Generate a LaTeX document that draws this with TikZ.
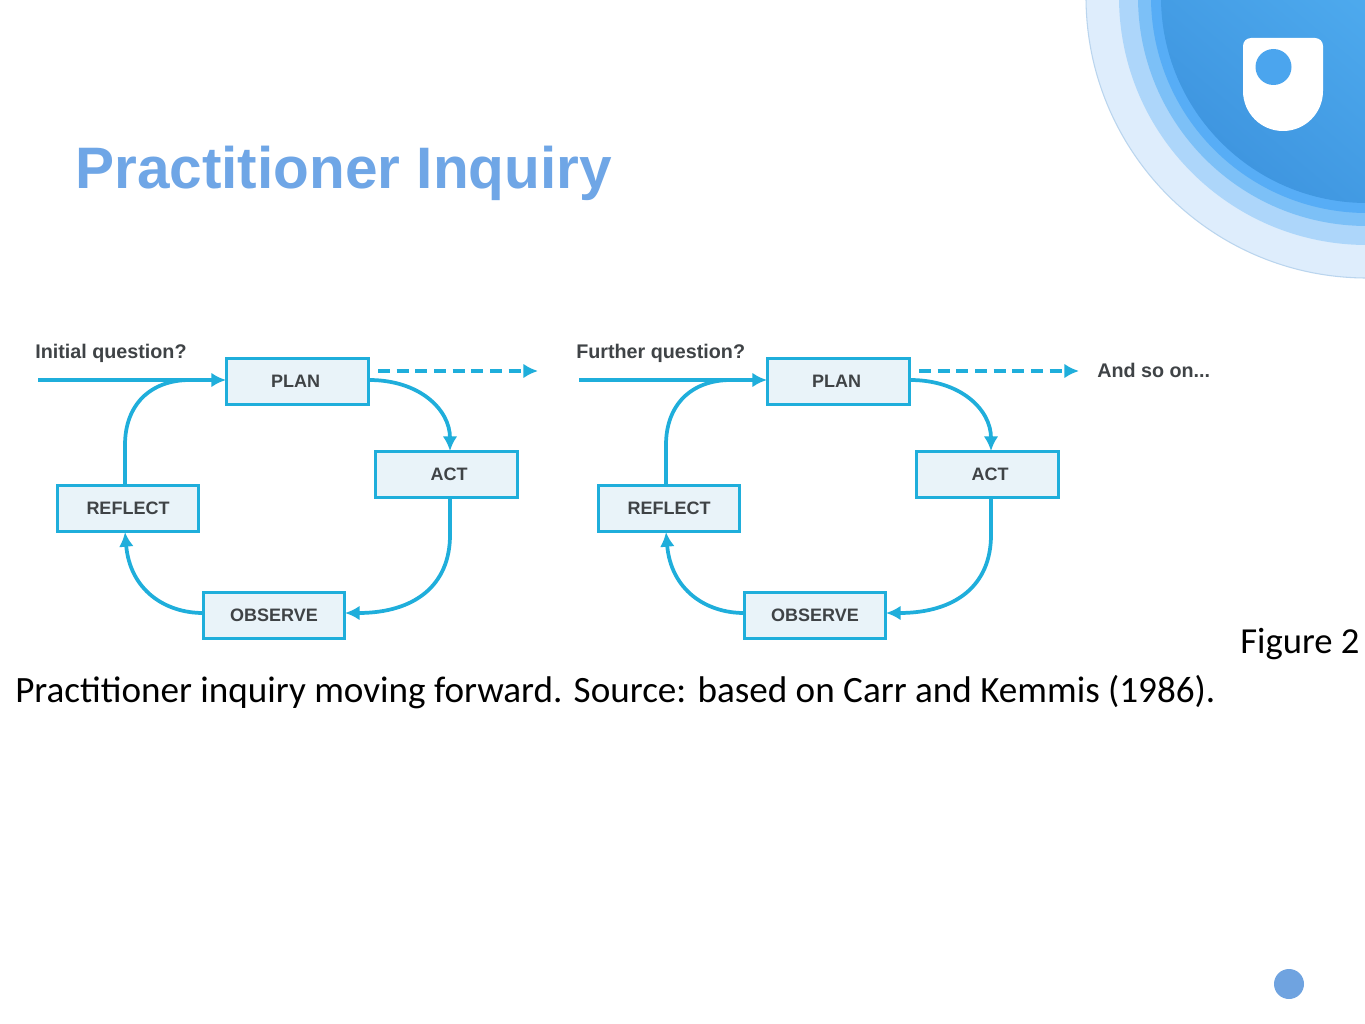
\documentclass[tikz,border=0pt]{standalone}
\usepackage{fontspec}
\setmainfont{Liberation Sans}
\newfontfamily\capfont{Carlito}
\usetikzlibrary{arrows.meta,calc}
\definecolor{cyc}{HTML}{1FAEDB}
\definecolor{boxfill}{HTML}{E9F3F9}
\definecolor{lbl}{HTML}{3F4346}
\definecolor{ttl}{HTML}{6FA6E6}
\definecolor{dotc}{HTML}{6FA3E0}
\definecolor{ringa}{HTML}{DEEDFC}
\definecolor{ringaedge}{HTML}{BAD5EE}
\definecolor{ringb}{HTML}{ADD6FA}
\definecolor{ringc}{HTML}{7CC0F7}
\definecolor{ringd}{HTML}{57ADF6}
\definecolor{corelight}{HTML}{5CBEFC}
\definecolor{coredark}{HTML}{3F96E0}
\definecolor{logodot}{HTML}{4BA5EE}
\tikzset{
  x=0.75pt,y=-0.75pt,
  stagebox/.style={draw=cyc,fill=boxfill,line width=2.2pt,minimum width=106pt,minimum height=34.5pt,inner sep=0pt,font=\fontsize{13.5}{15}\selectfont\bfseries,text=lbl},
  flow/.style={draw=cyc,line width=2.8pt,-{Latex[length=11pt,width=11pt]}},
  plainflow/.style={draw=cyc,line width=2.8pt},
  dashflow/.style={draw=cyc,line width=2.8pt,dash pattern=on 9pt off 5pt,-{Latex[length=11pt,width=11pt]}},
  side/.style={anchor=base west,inner sep=0pt,font=\fontsize{14.8}{16}\selectfont\bfseries,text=lbl},
  captxt/.style={anchor=base west,inner sep=0pt,font=\capfont\fontsize{27.5}{30}\selectfont,text=black},
}
\newcommand{\stagecycle}[2]{%
\begin{scope}[shift={(#1,0)},name prefix=#2-]
  \node[stagebox] (plan) at (297.5,381.5) {PLAN\kern3pt};
  \node[stagebox] (act) at (446.5,474.5) {\kern3.8pt ACT};
  \node[stagebox] (reflect) at (128,508.5) {REFLECT};
  \node[stagebox] (observe) at (274,615.5) {OBSERVE};
  \coordinate (start) at (38,380);
  \coordinate (dashs) at (378,371);
  \coordinate (dashe) at (538,371);
  \coordinate (aout) at (450,498);
  \coordinate (ain) at (450,451);
  \coordinate (oin) at (345,613);
  \coordinate (oout) at (203,613);
  \coordinate (rin) at (125,532);
  \coordinate (rout) at (125,485);
  \coordinate (merge) at (190,380);
  \coordinate (pout) at (369,380);
  \coordinate (pin) at (226,380);
  \draw[flow] (start) -- (pin);
  \draw[dashflow] (dashs) -- (dashe);
  \draw[flow] (pout) .. controls (420,380) and (450,410) .. (ain);
  \draw[flow] (aout) -- (450,535) .. controls (450,585) and (415,613) .. (oin);
  \draw[flow] (oout) .. controls (165,613) and (130,590) .. (rin);
  \draw[plainflow] (rout) -- (125,445) .. controls (125,405) and (150,380) .. (merge);
\end{scope}}
\begin{document}
\begin{tikzpicture}
\useasboundingbox (0,0) rectangle (1365,1024);
\fill[white] (0,0) rectangle (1365,1024);
\begin{scope}
  \clip (0,0) rectangle (1365,1024);
  \fill[ringa,draw=ringaedge,line width=0.8pt] (1367,-3) circle[radius=281];
  \fill[ringb] (1367,-3) circle[radius=248];
  \fill[ringc] (1367,-3) circle[radius=229];
  \fill[ringd] (1367,-3) circle[radius=216];
  \shade[top color=corelight,bottom color=coredark,shading angle=-40] (1367,-3) circle[radius=206];
\end{scope}
% logo
\fill[white] (1243,46) arc[start angle=180,end angle=270,radius=8] -- (1315,38) arc[start angle=270,end angle=360,radius=8] -- (1323,91) arc[start angle=0,end angle=180,radius=40] -- cycle;
\fill[logodot] (1273.5,67) circle[radius=18];
\node[anchor=base west,inner sep=0pt,font=\fontsize{43.9}{50}\selectfont\bfseries,text=ttl] (title) at (75,188) {Practitioner Inquiry};
\stagecycle{0}{l}
\stagecycle{541}{r}
\node[side] (q1) at (35,358) {Initial question?};
\node[side] (q2) at (576,358) {Further question?};
\node[side] (more) at (1097,377) {And so on...};
\node[captxt] (fig) at (1240,653) {Figure 2};
\node[captxt,font=\capfont\fontsize{27.85}{30}\selectfont] (capline) at (15,702) {Practitioner inquiry moving forward. Source: based on Carr and Kemmis (1986).};
\fill[dotc] (1289,984) circle[radius=15];
\end{tikzpicture}
\end{document}
